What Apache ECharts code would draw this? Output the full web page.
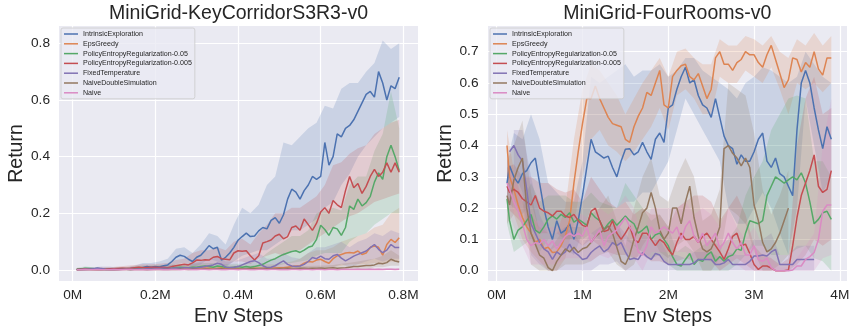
<!DOCTYPE html>
<html>
<head>
<meta charset="utf-8">
<script src="https://cdn.jsdelivr.net/npm/echarts@6.0.0/dist/echarts.min.js"></script>
<style>
  html, body { margin: 0; padding: 0; background: #ffffff; }
  #chart { width: 849px; height: 326px; }
</style>
</head>
<body>
<div id="chart"></div>
<script>
// ---------- Methods (legend order) ----------
const METHODS = ['IntrinsicExploration', 'EpsGreedy', 'PolicyEntropyRegularization-0.05',
  'PolicyEntropyRegularization-0.005', 'FixedTemperature', 'NaiveDoubleSimulation', 'Naive'];

// ---------- KeyCorridorS3R3: env steps (millions) ----------
const KC_STEPS = [0.01,0.02,0.03,0.04,0.05,0.06,0.07,0.08,0.09,0.10,
  0.11,0.12,0.13,0.14,0.15,0.16,0.17,0.18,0.19,0.20,
  0.21,0.22,0.23,0.24,0.25,0.26,0.27,0.28,0.29,0.30,
  0.31,0.32,0.33,0.34,0.35,0.36,0.37,0.38,0.39,0.40,
  0.41,0.42,0.43,0.44,0.45,0.46,0.47,0.48,0.49,0.50,
  0.51,0.52,0.53,0.54,0.55,0.56,0.57,0.58,0.59,0.60,
  0.61,0.62,0.63,0.64,0.65,0.66,0.67,0.68,0.69,0.70,
  0.71,0.72,0.73,0.74,0.75,0.76,0.77,0.78,0.79];

const KC_INTRINSIC = [0.001,0.002,0.002,0.003,0.004,0.006,0.004,0.002,0.002,0.002,
  0.003,0.004,0.003,0.005,0.006,0.006,0.009,0.012,0.010,0.012,
  0.011,0.015,0.018,0.030,0.045,0.052,0.048,0.038,0.030,0.045,
  0.052,0.068,0.086,0.075,0.080,0.035,0.045,0.060,0.080,0.105,
  0.118,0.130,0.118,0.120,0.138,0.150,0.145,0.175,0.185,0.165,
  0.195,0.250,0.285,0.275,0.250,0.280,0.300,0.330,0.320,0.330,
  0.450,0.370,0.400,0.480,0.470,0.500,0.510,0.530,0.560,0.590,
  0.620,0.630,0.610,0.700,0.660,0.600,0.650,0.640,0.680];
const KC_EPS = [0.002,0.002,0.003,0.003,0.002,0.002,0.003,0.003,0.002,0.002,
  0.003,0.004,0.003,0.004,0.004,0.005,0.004,0.005,0.004,0.005,
  0.004,0.005,0.004,0.004,0.005,0.004,0.003,0.004,0.005,0.006,
  0.006,0.007,0.006,0.005,0.006,0.008,0.006,0.005,0.006,0.005,
  0.005,0.004,0.005,0.006,0.006,0.005,0.006,0.006,0.007,0.008,
  0.008,0.010,0.012,0.014,0.015,0.024,0.030,0.028,0.035,0.038,
  0.030,0.024,0.040,0.050,0.055,0.060,0.062,0.060,0.067,0.055,
  0.060,0.080,0.085,0.080,0.052,0.090,0.108,0.097,0.114];
const KC_PER05 = [0.003,0.004,0.006,0.005,0.004,0.003,0.002,0.002,0.003,0.003,
  0.003,0.004,0.004,0.003,0.005,0.006,0.005,0.006,0.007,0.008,
  0.007,0.008,0.006,0.007,0.009,0.010,0.009,0.008,0.010,0.010,
  0.012,0.014,0.012,0.010,0.014,0.012,0.010,0.008,0.010,0.012,
  0.010,0.012,0.010,0.012,0.016,0.020,0.028,0.035,0.040,0.048,
  0.055,0.060,0.065,0.068,0.062,0.070,0.080,0.085,0.108,0.158,
  0.143,0.122,0.150,0.145,0.122,0.150,0.226,0.214,0.250,0.226,
  0.238,0.260,0.310,0.343,0.320,0.400,0.440,0.400,0.350];
const KC_PER005 = [0.002,0.003,0.004,0.003,0.003,0.002,0.002,0.003,0.004,0.004,
  0.005,0.006,0.005,0.006,0.008,0.010,0.008,0.009,0.010,0.010,
  0.009,0.010,0.008,0.012,0.015,0.018,0.020,0.018,0.025,0.035,
  0.034,0.036,0.035,0.045,0.048,0.040,0.038,0.036,0.060,0.068,
  0.066,0.068,0.050,0.035,0.050,0.095,0.100,0.106,0.120,0.126,
  0.110,0.118,0.150,0.155,0.140,0.180,0.160,0.140,0.165,0.205,
  0.220,0.200,0.245,0.230,0.220,0.280,0.330,0.290,0.305,0.270,
  0.295,0.330,0.355,0.330,0.345,0.378,0.345,0.378,0.345];
const KC_FIXED = [0.002,0.002,0.003,0.003,0.004,0.006,0.005,0.003,0.002,0.002,
  0.002,0.003,0.003,0.002,0.003,0.004,0.003,0.004,0.005,0.005,
  0.005,0.006,0.005,0.006,0.007,0.006,0.008,0.008,0.006,0.008,
  0.010,0.012,0.015,0.018,0.024,0.020,0.010,0.009,0.010,0.012,
  0.018,0.024,0.030,0.033,0.026,0.015,0.009,0.010,0.015,0.024,
  0.032,0.020,0.014,0.012,0.014,0.020,0.030,0.044,0.040,0.049,
  0.040,0.038,0.050,0.055,0.042,0.032,0.040,0.049,0.055,0.061,
  0.067,0.079,0.090,0.073,0.061,0.070,0.090,0.079,0.079];
const KC_NDS = [0.001,0.001,0.001,0.001,0.001,0.001,0.001,0.001,0.001,0.001,
  0.001,0.002,0.002,0.001,0.002,0.002,0.002,0.001,0.002,0.002,
  0.002,0.002,0.003,0.002,0.002,0.003,0.003,0.002,0.003,0.003,
  0.003,0.004,0.003,0.003,0.004,0.004,0.003,0.004,0.004,0.003,
  0.004,0.004,0.005,0.004,0.004,0.005,0.005,0.004,0.005,0.005,
  0.005,0.006,0.005,0.005,0.006,0.006,0.005,0.006,0.006,0.007,
  0.006,0.007,0.008,0.006,0.007,0.008,0.010,0.012,0.012,0.014,
  0.016,0.016,0.018,0.024,0.022,0.026,0.038,0.032,0.028];
const KC_NAIVE = [0.001,0.001,0.002,0.001,0.001,0.002,0.001,0.001,0.001,0.002,
  0.001,0.001,0.002,0.002,0.001,0.001,0.002,0.001,0.001,0.002,
  0.002,0.001,0.001,0.002,0.002,0.001,0.002,0.002,0.001,0.001,
  0.002,0.002,0.001,0.002,0.002,0.001,0.001,0.002,0.002,0.001,
  0.002,0.002,0.001,0.001,0.002,0.002,0.001,0.002,0.002,0.001,
  0.002,0.001,0.002,0.002,0.001,0.002,0.002,0.001,0.002,0.002,
  0.001,0.002,0.002,0.001,0.002,0.003,0.002,0.002,0.003,0.002,
  0.002,0.003,0.002,0.003,0.002,0.003,0.003,0.002,0.003];

// confidence bands, coarser step grid
const KC_BAND_STEPS = [0.01,0.03,0.05,0.07,0.09,0.11,0.13,0.15,0.17,0.19,
  0.21,0.23,0.25,0.27,0.29,0.31,0.33,0.35,0.37,0.39,
  0.41,0.43,0.45,0.47,0.49,0.51,0.53,0.55,0.57,0.59,
  0.61,0.63,0.65,0.67,0.69,0.71,0.73,0.75,0.77,0.79];
const KC_INTRINSIC_LO = [0,0,0,0,0,0,0,0.002,0.003,0.004,
  0.005,0.005,0.02,0.025,0.01,0.02,0.04,0.03,0.01,0.03,
  0.05,0.06,0.07,0.07,0.09,0.11,0.14,0.14,0.16,0.18,
  0.22,0.24,0.30,0.34,0.40,0.44,0.47,0.50,0.52,0.54];
const KC_INTRINSIC_HI = [0.004,0.008,0.010,0.006,0.006,0.008,0.010,0.015,0.025,0.025,
  0.030,0.04,0.075,0.08,0.06,0.09,0.13,0.12,0.09,0.16,
  0.22,0.20,0.23,0.30,0.33,0.45,0.44,0.47,0.50,0.52,
  0.58,0.57,0.64,0.66,0.66,0.70,0.73,0.81,0.78,0.80];
const KC_EPS_LO = [0,0,0,0,0,0,0,0,0,0,
  0,0,0,0,0,0,0,0,0,0,
  0,0,0,0,0,0,0,0,0.005,0.01,
  0.01,0.01,0.015,0.02,0.02,0.02,0.025,0.02,0.03,0.03];
const KC_EPS_HI = [0.006,0.006,0.008,0.008,0.008,0.010,0.010,0.012,0.012,0.012,
  0.012,0.012,0.012,0.012,0.014,0.016,0.016,0.018,0.016,0.016,
  0.016,0.016,0.018,0.02,0.02,0.025,0.03,0.04,0.06,0.07,
  0.07,0.08,0.10,0.11,0.12,0.13,0.15,0.16,0.20,0.22];
const KC_PER05_LO = [0,0,0,0,0,0,0,0,0,0,
  0,0,0,0,0,0,0,0,0,0,
  0,0,0.004,0.008,0.012,0.02,0.025,0.03,0.035,0.05,
  0.06,0.06,0.06,0.10,0.12,0.13,0.16,0.18,0.20,0.20];
const KC_PER05_HI = [0.008,0.012,0.010,0.008,0.008,0.010,0.010,0.012,0.015,0.016,
  0.018,0.018,0.02,0.02,0.022,0.025,0.025,0.025,0.02,0.022,
  0.022,0.025,0.035,0.06,0.08,0.10,0.12,0.12,0.14,0.20,
  0.21,0.22,0.21,0.30,0.33,0.33,0.42,0.48,0.63,0.50];
const KC_PER005_LO = [0,0,0,0,0,0.001,0.002,0.002,0.003,0.003,
  0.003,0.003,0.005,0.006,0.01,0.015,0.015,0.02,0.015,0.03,
  0.03,0.02,0.04,0.05,0.06,0.05,0.07,0.07,0.09,0.11,
  0.13,0.15,0.17,0.19,0.20,0.22,0.24,0.25,0.26,0.27];
const KC_PER005_HI = [0.004,0.006,0.006,0.008,0.010,0.012,0.015,0.018,0.020,0.020,
  0.022,0.025,0.035,0.04,0.06,0.07,0.07,0.08,0.07,0.10,
  0.11,0.09,0.13,0.16,0.20,0.20,0.22,0.22,0.24,0.26,
  0.30,0.37,0.38,0.41,0.43,0.44,0.48,0.50,0.52,0.53];
const KC_FIXED_LO = [0,0,0,0,0,0,0,0,0,0,
  0,0,0,0,0,0,0,0,0,0,
  0,0,0,0,0,0,0,0,0,0,
  0.01,0.01,0.02,0.01,0.02,0.03,0.04,0.03,0.04,0.04];
const KC_FIXED_HI = [0.006,0.008,0.010,0.012,0.012,0.008,0.008,0.010,0.010,0.012,
  0.014,0.016,0.018,0.02,0.022,0.03,0.04,0.05,0.03,0.03,
  0.04,0.05,0.06,0.04,0.04,0.06,0.045,0.04,0.06,0.08,
  0.08,0.09,0.10,0.08,0.10,0.11,0.13,0.12,0.14,0.13];
const KC_NDS_LO = [0,0,0,0,0,0,0,0,0,0,
  0,0,0,0,0,0,0,0,0,0,
  0,0,0,0,0,0,0,0,0,0,
  0,0,0,0,0,0,0.01,0.01,0.015,0.015];
const KC_NDS_HI = [0.004,0.004,0.005,0.005,0.005,0.006,0.006,0.006,0.006,0.007,
  0.007,0.007,0.008,0.008,0.008,0.009,0.009,0.009,0.010,0.010,
  0.010,0.010,0.011,0.011,0.012,0.012,0.012,0.013,0.014,0.015,
  0.016,0.018,0.022,0.026,0.03,0.035,0.04,0.05,0.07,0.05];
const KC_NAIVE_LO = [0,0,0,0,0,0,0,0,0,0,
  0,0,0,0,0,0,0,0,0,0,
  0,0,0,0,0,0,0,0,0,0,
  0,0,0,0,0,0,0,0,0,0];
const KC_NAIVE_HI = [0.004,0.004,0.005,0.004,0.004,0.005,0.004,0.004,0.005,0.004,
  0.004,0.005,0.005,0.004,0.004,0.005,0.005,0.004,0.005,0.005,
  0.004,0.005,0.005,0.005,0.004,0.005,0.005,0.005,0.006,0.005,
  0.005,0.006,0.006,0.005,0.006,0.006,0.007,0.006,0.007,0.007];

// ---------- FourRooms: env steps (millions) ----------
const FR_STEPS = [0.12,
  0.15,0.20,0.25,0.30,0.35,0.40,0.45,0.50,0.55,0.60,
  0.65,0.70,0.75,0.80,0.85,0.90,0.95,1.00,1.05,1.10,
  1.15,1.20,1.25,1.30,1.35,1.40,1.45,1.50,1.55,1.60,
  1.65,1.70,1.75,1.80,1.85,1.90,1.95,2.00,2.05,2.10,
  2.15,2.20,2.25,2.30,2.35,2.40,2.45,2.50,2.55,2.60,
  2.65,2.70,2.75,2.80,2.85,2.90,2.95,3.00,3.05,3.10,
  3.15,3.20,3.25,3.30,3.35,3.40,3.45,3.50,3.55,3.60,
  3.65,3.70,3.75,3.80,3.85,3.90];

const FR_INTRINSIC = [0.28,
  0.335,0.30,0.28,0.31,0.32,0.345,0.36,0.28,0.20,0.14,
  0.10,0.16,0.12,0.13,0.15,0.10,0.16,0.24,0.33,0.42,
  0.38,0.37,0.36,0.366,0.33,0.30,0.35,0.388,0.39,0.37,
  0.38,0.41,0.38,0.356,0.42,0.44,0.41,0.52,0.53,0.58,
  0.62,0.65,0.60,0.61,0.56,0.53,0.52,0.49,0.55,0.49,
  0.43,0.40,0.39,0.34,0.37,0.35,0.35,0.38,0.42,0.44,
  0.35,0.33,0.36,0.31,0.30,0.27,0.24,0.45,0.60,0.64,
  0.60,0.52,0.45,0.39,0.46,0.42];
const FR_EPS = [0.40,
  0.30,0.26,0.21,0.17,0.14,0.12,0.09,0.10,0.07,0.075,
  0.058,0.06,0.08,0.11,0.16,0.28,0.38,0.47,0.55,0.55,
  0.59,0.55,0.52,0.49,0.47,0.465,0.46,0.42,0.41,0.46,
  0.494,0.52,0.57,0.56,0.60,0.64,0.53,0.52,0.62,0.64,
  0.655,0.66,0.62,0.61,0.63,0.59,0.55,0.58,0.68,0.70,
  0.66,0.66,0.64,0.665,0.675,0.70,0.69,0.69,0.665,0.65,
  0.69,0.72,0.675,0.63,0.585,0.61,0.68,0.675,0.635,0.665,
  0.65,0.70,0.645,0.625,0.68,0.68];
const FR_PER05 = [0.23,
  0.16,0.10,0.13,0.14,0.16,0.18,0.13,0.12,0.14,0.165,
  0.175,0.165,0.18,0.17,0.185,0.155,0.165,0.155,0.145,0.185,
  0.17,0.16,0.132,0.15,0.164,0.145,0.16,0.175,0.16,0.15,
  0.12,0.13,0.143,0.10,0.115,0.12,0.10,0.08,0.045,0.02,
  0.015,0.036,0.055,0.02,0.036,0.03,0.05,0.06,0.03,0.045,
  0.03,0.045,0.05,0.07,0.065,0.12,0.16,0.155,0.15,0.16,
  0.24,0.27,0.30,0.29,0.28,0.29,0.30,0.29,0.313,0.28,
  0.22,0.15,0.164,0.185,0.19,0.164];
const FR_PER005 = [0.27,
  0.25,0.26,0.25,0.23,0.22,0.21,0.24,0.20,0.19,0.185,
  0.175,0.19,0.19,0.175,0.17,0.18,0.16,0.145,0.14,0.19,
  0.20,0.16,0.125,0.13,0.16,0.12,0.10,0.12,0.143,0.10,
  0.09,0.12,0.12,0.10,0.08,0.10,0.09,0.068,0.05,0.09,
  0.12,0.10,0.10,0.11,0.09,0.11,0.12,0.10,0.08,0.06,
  0.036,0.07,0.11,0.12,0.08,0.085,0.055,0.02,0.004,0.015,
  0.015,0.008,0.0,0.0,0.0,0.002,0.08,0.17,0.24,0.28,
  0.32,0.37,0.27,0.25,0.26,0.32];
const FR_FIXED = [null,
  0.38,0.40,0.37,0.35,0.26,0.15,0.12,0.09,0.07,0.06,
  0.036,0.06,0.05,0.06,0.085,0.06,0.05,0.036,0.04,0.058,
  0.07,0.079,0.06,0.07,0.09,0.08,0.09,0.06,0.036,0.04,
  0.036,0.058,0.045,0.036,0.055,0.05,0.03,0.02,0.02,0.02,
  0.02,0.02,0.02,0.025,0.036,0.036,0.036,0.036,0.02,0.02,
  0.025,0.036,0.02,0.02,0.02,0.02,0.03,0.047,0.047,0.05,
  0.047,0.06,0.068,0.02,0.02,0.02,0.02,0.036,0.036,0.036,
  0.036,0.036,null,null,null,null];
const FR_NDS = [0.24,
  0.21,0.29,0.33,0.36,0.20,0.12,0.085,0.05,0.04,0.01,
  0.0,0.03,0.05,0.07,0.06,0.075,0.058,0.07,0.075,0.09,
  0.11,0.12,0.13,0.143,0.12,0.075,0.03,0.02,0.05,0.10,
  0.14,0.185,0.20,0.25,0.20,0.13,0.10,0.12,0.20,0.20,
  0.15,0.22,0.27,0.17,0.11,0.07,0.06,0.07,0.10,0.14,
  0.39,0.40,0.375,0.36,0.335,0.36,0.33,0.21,0.16,0.09,
  0.06,0.07,0.09,0.12,0.16,0.20,null,null,null,null,
  null,null,null,null,null,null];
const FR_NAIVE = [0.28,
  0.26,0.22,0.19,0.15,0.10,0.08,0.09,0.085,0.10,0.08,
  0.095,0.07,0.09,0.11,0.12,0.11,0.12,0.11,0.14,0.09,
  0.11,0.13,0.08,0.11,0.12,0.13,0.15,0.17,0.14,0.12,
  0.06,0.05,0.08,0.14,0.12,0.13,0.14,0.13,0.12,0.14,
  0.10,0.14,0.16,0.11,0.09,0.12,0.08,0.10,0.12,0.07,
  0.09,0.12,0.09,0.07,0.09,0.05,0.05,0.08,0.036,0.03,
  0.04,0.01,0.0,0.0,0.0,0.0,0.002,0.015,0.015,0.036,
  0.045,0.058,0.10,0.19,0.21,0.21];

// confidence bands
const FR_BAND_STEPS = [0.12,
  0.2,0.3,0.4,0.5,0.6,0.7,0.8,0.9,1.0,
  1.1,1.2,1.3,1.4,1.5,1.6,1.7,1.8,1.9,
  2.0,2.1,2.2,2.3,2.4,2.5,2.6,2.7,2.8,2.9,
  3.0,3.1,3.2,3.3,3.4,3.5,3.6,3.7,3.8,3.9];
const FR_INTRINSIC_LO = [0.22,
  0.20,0.18,0.22,0.12,0.06,0.08,0.07,0.05,0.12,
  0.20,0.20,0.20,0.20,0.22,0.22,0.25,0.25,0.30,
  0.35,0.45,0.55,0.50,0.45,0.40,0.35,0.20,0.15,0.15,
  0.20,0.25,0.20,0.12,0.05,0.20,0.55,0.40,0.25,0.30];
const FR_INTRINSIC_HI = [0.35,
  0.44,0.42,0.50,0.42,0.28,0.25,0.22,0.22,0.35,
  0.62,0.60,0.62,0.64,0.66,0.62,0.64,0.64,0.66,
  0.62,0.64,0.68,0.68,0.64,0.62,0.60,0.58,0.55,0.60,
  0.62,0.65,0.64,0.62,0.60,0.62,0.70,0.66,0.62,0.60];
const FR_EPS_LO = [0.30,
  0.18,0.10,0.06,0.03,0.0,0.0,0.04,0.15,0.30,
  0.42,0.45,0.40,0.38,0.35,0.38,0.42,0.46,0.52,
  0.45,0.56,0.58,0.55,0.50,0.50,0.62,0.60,0.60,0.64,
  0.62,0.60,0.65,0.58,0.50,0.60,0.58,0.60,0.57,0.60];
const FR_EPS_HI = [0.45,
  0.32,0.22,0.18,0.14,0.12,0.12,0.20,0.42,0.58,
  0.66,0.64,0.60,0.56,0.50,0.55,0.60,0.64,0.68,
  0.62,0.70,0.71,0.68,0.66,0.66,0.74,0.72,0.72,0.75,
  0.74,0.72,0.75,0.70,0.68,0.74,0.72,0.76,0.72,0.75];
const FR_PER05_LO = [0.15,
  0.06,0.08,0.10,0.06,0.10,0.10,0.10,0.10,0.10,
  0.12,0.10,0.09,0.08,0.10,0.08,0.06,0.04,0.05,
  0.02,0.0,0.0,0.0,0.0,0.0,0.0,0.0,0.02,0.05,
  0.08,0.08,0.05,0.05,0.05,0.07,0.08,0.04,0.03,0.0];
const FR_PER05_HI = [0.35,
  0.18,0.22,0.28,0.22,0.24,0.24,0.24,0.22,0.22,
  0.25,0.22,0.21,0.20,0.28,0.24,0.20,0.16,0.18,
  0.14,0.06,0.08,0.06,0.08,0.10,0.08,0.10,0.14,0.24,
  0.30,0.35,0.45,0.50,0.55,0.56,0.55,0.35,0.35,0.30];
const FR_PER005_LO = [0.20,
  0.18,0.15,0.14,0.12,0.12,0.12,0.10,0.10,0.08,
  0.10,0.08,0.06,0.05,0.05,0.04,0.05,0.03,0.03,
  0.02,0.03,0.04,0.03,0.04,0.03,0.0,0.02,0.04,0.02,
  0.0,0.0,0.0,0.0,0.0,0.02,0.05,0.10,0.08,0.10];
const FR_PER005_HI = [0.33,
  0.34,0.30,0.30,0.28,0.28,0.26,0.25,0.26,0.22,
  0.30,0.26,0.22,0.20,0.22,0.18,0.20,0.18,0.18,
  0.14,0.20,0.22,0.24,0.24,0.22,0.16,0.20,0.24,0.18,
  0.08,0.05,0.04,0.02,0.04,0.40,0.55,0.62,0.50,0.52];
const FR_FIXED_LO = [null,
  0.32,0.25,0.05,0.02,0.0,0.0,0.0,0.0,0.0,
  0.0,0.02,0.02,0.03,0.0,0.0,0.0,0.0,0.0,
  0.0,0.0,0.0,0.0,0.0,0.0,0.0,0.0,0.0,0.0,
  0.0,0.0,0.0,0.0,0.0,0.0,0.0,0.0,null,null];
const FR_FIXED_HI = [null,
  0.45,0.45,0.30,0.18,0.12,0.12,0.14,0.12,0.08,
  0.12,0.14,0.14,0.15,0.12,0.08,0.12,0.10,0.10,
  0.05,0.05,0.04,0.06,0.06,0.06,0.04,0.06,0.05,0.05,
  0.10,0.10,0.12,0.05,0.05,0.08,0.08,0.08,null,null];
const FR_NDS_LO = [0.15,
  0.18,0.22,0.02,0.0,0.0,0.0,0.02,0.02,0.02,
  0.03,0.05,0.06,0.02,0.0,0.02,0.08,0.12,0.06,
  0.04,0.08,0.10,0.06,0.0,0.0,0.04,0.20,0.18,0.15,
  0.06,0.0,0.0,0.02,0.05,null,null,null,null,null];
const FR_NDS_HI = [0.35,
  0.40,0.48,0.25,0.12,0.06,0.10,0.14,0.14,0.14,
  0.18,0.20,0.24,0.16,0.08,0.20,0.30,0.36,0.24,
  0.22,0.30,0.36,0.30,0.16,0.18,0.26,0.60,0.58,0.56,
  0.44,0.26,0.18,0.24,0.32,null,null,null,null,null];
const FR_NAIVE_LO = [0.20,
  0.14,0.08,0.02,0.02,0.02,0.02,0.04,0.04,0.04,
  0.03,0.05,0.04,0.06,0.08,0.04,0.0,0.06,0.06,
  0.06,0.06,0.06,0.04,0.04,0.03,0.02,0.04,0.02,0.0,
  0.0,0.0,0.0,0.0,0.0,0.0,0.0,0.0,0.04,0.05];
const FR_NAIVE_HI = [0.35,
  0.30,0.24,0.16,0.16,0.14,0.14,0.18,0.18,0.18,
  0.16,0.20,0.18,0.20,0.24,0.20,0.10,0.20,0.20,
  0.20,0.20,0.22,0.18,0.20,0.18,0.14,0.20,0.14,0.10,
  0.14,0.08,0.04,0.01,0.01,0.04,0.08,0.12,0.40,0.55];

// ---------- axis ticks ----------
const KC_X_TICKS = [0, 0.2, 0.4, 0.6, 0.8];
const KC_Y_TICKS = [0, 0.2, 0.4, 0.6, 0.8];
const FR_X_TICKS = [0, 1, 2, 3, 4];
const FR_Y_TICKS = [0, 0.1, 0.2, 0.3, 0.4, 0.5, 0.6, 0.7];

// seaborn "deep" palette
const COLORS = ['#4C72B0', '#DD8452', '#55A868', '#C44E52', '#8172B3', '#937860', '#DA8BC3'];
const BAND_FILLS = ['rgba(76,114,176,0.2)', 'rgba(221,132,82,0.2)', 'rgba(85,168,104,0.2)',
  'rgba(196,78,82,0.2)', 'rgba(129,114,179,0.2)', 'rgba(147,120,96,0.2)', 'rgba(218,139,195,0.2)'];

const FONT = "'Liberation Sans', Arial, sans-serif";
const INK = '#262626';

function lineSeries(name, idx, axis, xs, ys) {
  const data = [];
  xs.forEach(function (x, i) { if (ys[i] != null) data.push([x, ys[i]]); });
  return {
    type: 'line', name: name, xAxisIndex: axis, yAxisIndex: axis, data: data,
    symbol: 'none', showSymbol: false, silent: true, z: 2,
    lineStyle: { color: COLORS[idx], width: 1.5 }, itemStyle: { color: COLORS[idx] }
  };
}

// shaded band between lower and upper curve, drawn as one polygon in data coordinates
function bandSeries(idx, axis, xs, lo, hi) {
  return {
    type: 'custom', name: METHODS[idx] + ' range', xAxisIndex: axis, yAxisIndex: axis,
    silent: true, z: 1, data: [[0, 0]], encode: { x: 0, y: 1 },
    renderItem: function (params, api) {
      const upper = [], lower = [];
      for (let i = 0; i < xs.length; i++) {
        if (lo[i] == null || hi[i] == null) continue;
        upper.push(api.coord([xs[i], hi[i]]));
        lower.unshift(api.coord([xs[i], lo[i]]));
      }
      return { type: 'polygon', shape: { points: upper.concat(lower) },
               style: { fill: BAND_FILLS[idx], stroke: null } };
    }
  };
}

const KC_MEANS = [KC_INTRINSIC, KC_EPS, KC_PER05, KC_PER005, KC_FIXED, KC_NDS, KC_NAIVE];
const KC_LOS = [KC_INTRINSIC_LO, KC_EPS_LO, KC_PER05_LO, KC_PER005_LO, KC_FIXED_LO, KC_NDS_LO, KC_NAIVE_LO];
const KC_HIS = [KC_INTRINSIC_HI, KC_EPS_HI, KC_PER05_HI, KC_PER005_HI, KC_FIXED_HI, KC_NDS_HI, KC_NAIVE_HI];
const FR_MEANS = [FR_INTRINSIC, FR_EPS, FR_PER05, FR_PER005, FR_FIXED, FR_NDS, FR_NAIVE];
const FR_LOS = [FR_INTRINSIC_LO, FR_EPS_LO, FR_PER05_LO, FR_PER005_LO, FR_FIXED_LO, FR_NDS_LO, FR_NAIVE_LO];
const FR_HIS = [FR_INTRINSIC_HI, FR_EPS_HI, FR_PER05_HI, FR_PER005_HI, FR_FIXED_HI, FR_NDS_HI, FR_NAIVE_HI];

const series = [];
METHODS.forEach(function (m, i) { series.push(bandSeries(i, 0, KC_BAND_STEPS, KC_LOS[i], KC_HIS[i])); });
METHODS.forEach(function (m, i) { series.push(bandSeries(i, 1, FR_BAND_STEPS, FR_LOS[i], FR_HIS[i])); });
METHODS.forEach(function (m, i) { series.push(lineSeries(m, i, 0, KC_STEPS, KC_MEANS[i])); });
METHODS.forEach(function (m, i) { series.push(lineSeries(m, i, 1, FR_STEPS, FR_MEANS[i])); });

function xAxis(gridIndex, min, max, ticks) {
  return {
    type: 'value', gridIndex: gridIndex, min: min, max: max,
    name: 'Env Steps', nameLocation: 'middle', nameGap: 21.5,
    nameTextStyle: { fontSize: 19.5, color: INK, fontFamily: FONT },
    axisLine: { show: false }, axisTick: { show: false, customValues: ticks },
    axisLabel: { customValues: ticks, margin: 7, fontSize: 13.7, color: INK, fontFamily: FONT,
                 formatter: function (v) { return v + 'M'; } },
    splitLine: { show: true, lineStyle: { color: '#ffffff', width: 1.2 } }
  };
}
function yAxis(gridIndex, min, max, ticks, nameGap, margin) {
  return {
    type: 'value', gridIndex: gridIndex, min: min, max: max,
    name: 'Return', nameLocation: 'middle', nameGap: nameGap,
    nameTextStyle: { fontSize: 19.5, color: INK, fontFamily: FONT },
    axisLine: { show: false }, axisTick: { show: false, customValues: ticks },
    axisLabel: { customValues: ticks, margin: margin, fontSize: 13.7, color: INK, fontFamily: FONT,
                 formatter: function (v) { return v.toFixed(1); } },
    splitLine: { show: true, lineStyle: { color: '#ffffff', width: 1.2 } }
  };
}
function legend(left) {
  return {
    data: METHODS, orient: 'vertical', left: left, top: 28,
    icon: 'rect', itemWidth: 14, itemHeight: 1.5, itemGap: 1.8, padding: [2, 3],
    backgroundColor: 'rgba(234,234,242,0.8)', borderColor: '#cccccc', borderWidth: 0.8, borderRadius: 2,
    selectedMode: false,
    textStyle: { fontSize: 7.1, lineHeight: 8, color: INK, fontFamily: FONT }
  };
}

const chart = echarts.init(document.getElementById('chart'), null, { renderer: 'canvas' });
chart.setOption({
  animation: false,
  backgroundColor: '#ffffff',
  title: [
    { text: 'MiniGrid-KeyCorridorS3R3-v0', left: 238.5, top: 3.8, textAlign: 'center', padding: 0,
      textStyle: { fontSize: 19.5, fontWeight: 'normal', color: INK, fontFamily: FONT } },
    { text: 'MiniGrid-FourRooms-v0', left: 667.3, top: 3.8, textAlign: 'center', padding: 0,
      textStyle: { fontSize: 19.5, fontWeight: 'normal', color: INK, fontFamily: FONT } }
  ],
  legend: [legend(61), legend(490)],
  grid: [
    { left: 59, top: 26, width: 359, height: 255, show: true, backgroundColor: '#EAEAF2', borderWidth: 0,
      outerBoundsMode: 'none', containLabel: false },
    { left: 488, top: 26, width: 359, height: 255, show: true, backgroundColor: '#EAEAF2', borderWidth: 0,
      outerBoundsMode: 'none', containLabel: false }
  ],
  xAxis: [xAxis(0, -0.033, 0.8354, KC_X_TICKS), xAxis(1, -0.1014, 4.083, FR_X_TICKS)],
  yAxis: [yAxis(0, -0.0388, 0.861, KC_Y_TICKS, 31.75, 9), yAxis(1, -0.0329, 0.782, FR_Y_TICKS, 30.5, 9.5)],
  series: series
});
</script>
</body>
</html>
